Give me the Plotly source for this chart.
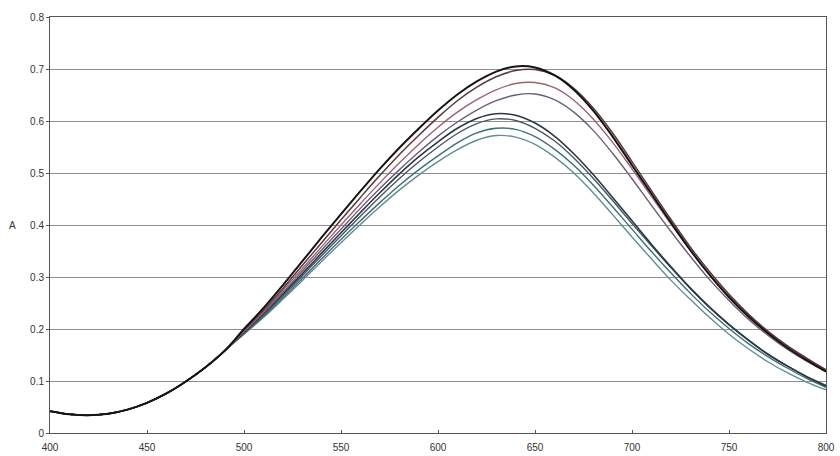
import plotly.graph_objects as go

wavelength = list(range(400, 801, 10))

base = [0.042, 0.036, 0.034, 0.037, 0.045, 0.058, 0.076, 0.099, 0.126, 0.158]

u1 = base + [0.200, 0.240, 0.284, 0.330, 0.376, 0.421, 0.465, 0.508, 0.548, 0.585,
             0.620, 0.651, 0.676, 0.695, 0.705, 0.703, 0.688, 0.660, 0.620, 0.570,
             0.515, 0.460, 0.405, 0.352, 0.304, 0.261, 0.224, 0.192, 0.164, 0.140, 0.118]
u2 = base + [0.198, 0.236, 0.278, 0.322, 0.366, 0.410, 0.453, 0.495, 0.535, 0.572,
             0.607, 0.639, 0.665, 0.685, 0.697, 0.699, 0.688, 0.663, 0.625, 0.577,
             0.522, 0.466, 0.411, 0.358, 0.310, 0.267, 0.229, 0.196, 0.168, 0.144, 0.121]
u3 = base + [0.196, 0.233, 0.274, 0.316, 0.358, 0.400, 0.441, 0.481, 0.519, 0.555,
             0.588, 0.617, 0.641, 0.660, 0.672, 0.674, 0.664, 0.640, 0.604, 0.559,
             0.508, 0.455, 0.402, 0.352, 0.305, 0.263, 0.226, 0.194, 0.167, 0.143, 0.122]
u4 = base + [0.195, 0.231, 0.270, 0.311, 0.352, 0.392, 0.432, 0.470, 0.506, 0.540,
             0.571, 0.598, 0.621, 0.639, 0.650, 0.652, 0.641, 0.617, 0.582, 0.538,
             0.489, 0.438, 0.388, 0.340, 0.295, 0.255, 0.219, 0.188, 0.161, 0.138, 0.118]
l1 = base + [0.194, 0.229, 0.267, 0.306, 0.346, 0.385, 0.424, 0.462, 0.498, 0.531,
             0.560, 0.586, 0.605, 0.614, 0.611, 0.596, 0.571, 0.537, 0.497, 0.453,
             0.408, 0.363, 0.320, 0.279, 0.242, 0.209, 0.179, 0.152, 0.129, 0.108, 0.090]
l2 = base + [0.193, 0.227, 0.264, 0.302, 0.341, 0.379, 0.417, 0.454, 0.489, 0.521,
             0.550, 0.576, 0.595, 0.604, 0.601, 0.586, 0.562, 0.529, 0.490, 0.447,
             0.403, 0.360, 0.318, 0.278, 0.241, 0.208, 0.178, 0.151, 0.129, 0.109, 0.092]
l3 = base + [0.191, 0.224, 0.260, 0.297, 0.335, 0.372, 0.408, 0.443, 0.476, 0.506,
             0.533, 0.558, 0.577, 0.586, 0.584, 0.570, 0.546, 0.515, 0.477, 0.435,
             0.392, 0.349, 0.308, 0.269, 0.233, 0.201, 0.172, 0.147, 0.125, 0.105, 0.088]
l4 = base + [0.190, 0.222, 0.257, 0.293, 0.330, 0.366, 0.401, 0.435, 0.467, 0.496,
             0.522, 0.545, 0.563, 0.572, 0.569, 0.555, 0.531, 0.500, 0.462, 0.420,
             0.377, 0.335, 0.294, 0.257, 0.222, 0.190, 0.162, 0.137, 0.116, 0.098, 0.083]

series = [l4, l3, l2, l1, u4, u3, u2, u1]
colors = ["#5f8f93", "#3f6e74", "#4b5663", "#2c3846", "#6c5c78", "#a2606e", "#5a3838", "#141414"]
widths = [1.4, 1.4, 1.4, 1.6, 1.4, 1.4, 1.5, 2.0]

x_ticks = [400, 450, 500, 550, 600, 650, 700, 750, 800]
y_ticks = [0, 0.1, 0.2, 0.3, 0.4, 0.5, 0.6, 0.7, 0.8]
y_labels = ["0", "0.1", "0.2", "0.3", "0.4", "0.5", "0.6", "0.7", "0.8"]

fig = go.Figure()
for ys, c, w in zip(series, colors, widths):
    fig.add_trace(go.Scatter(x=wavelength, y=ys, mode="lines",
                             line=dict(color=c, width=w, shape="spline"),
                             showlegend=False))

fig.update_layout(
    width=840, height=456,
    margin=dict(l=50, r=14, t=17, b=23, autoexpand=False),
    paper_bgcolor="white", plot_bgcolor="white",
    font=dict(family="Liberation Sans, Arial, sans-serif", size=10, color="#333333"),
    xaxis=dict(range=[400, 800], tickvals=x_ticks, showgrid=False, zeroline=False,
               showline=True, linecolor="#555555", linewidth=1, mirror=True,
               ticks="inside", ticklen=3, tickcolor="#555555", ticklabelstandoff=5,
               automargin=False),
    yaxis=dict(range=[0, 0.8], tickvals=y_ticks, ticktext=y_labels, showgrid=True,
               gridcolor="#8e8e8e", gridwidth=1, zeroline=False,
               showline=True, linecolor="#555555", linewidth=1, mirror=True,
               ticks="outside", ticklen=3, tickcolor="#555555", automargin=False),
    annotations=[dict(text="A", x=-0.048, y=0.4, xref="paper", yref="y", showarrow=False,
                      xanchor="center", font=dict(size=10, color="#333333"))],
)

fig.write_html("out.html")
